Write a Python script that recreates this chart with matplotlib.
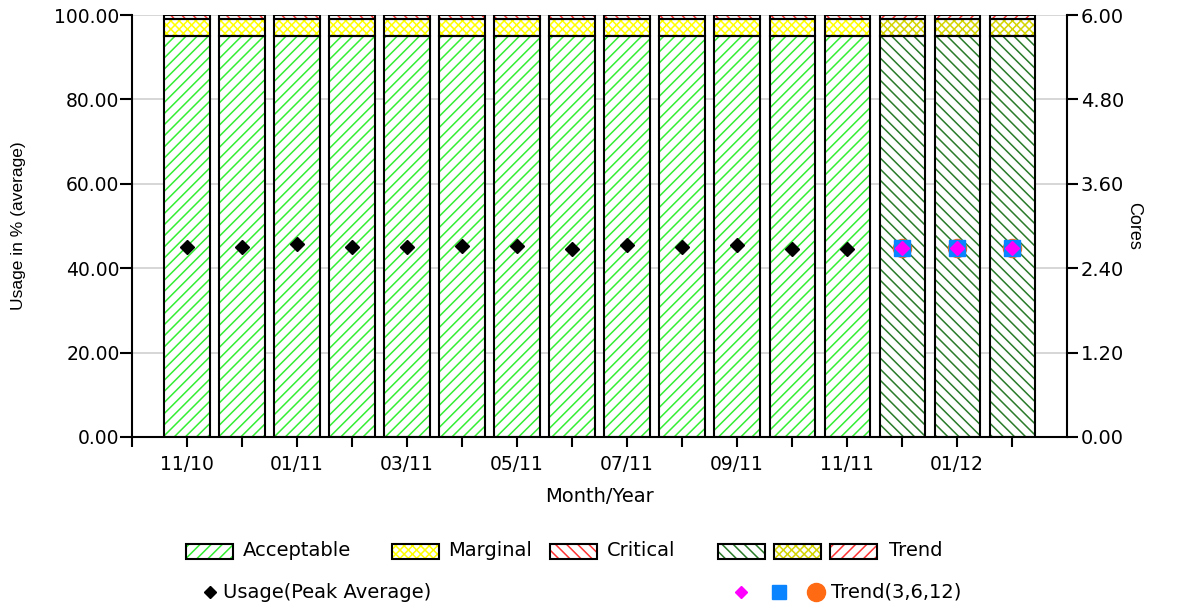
import matplotlib.pyplot as plt
from matplotlib.patches import Rectangle
from matplotlib.lines import Line2D
import numpy as np

plt.rcParams['font.family'] = ['DejaVu Sans']
plt.rcParams['hatch.linewidth'] = 1.1

# months shown on the x axis (actual months 11/10 .. 02/12)
months = ['11/10', '12/10', '01/11', '02/11', '03/11', '04/11', '05/11', '06/11',
          '07/11', '08/11', '09/11', '10/11', '11/11', '12/11', '01/12', '02/12']
is_trend = [False] * 13 + [True] * 3

# threshold bands (percent)
acceptable = [95] * 16
marginal = [4] * 16
critical = [1] * 16

# peak average usage (percent)
usage = [45.1, 45.1, 45.7, 45.1, 45.1, 45.2, 45.2, 44.6, 45.5, 45.1, 45.4, 44.6, 44.6]
trend3 = [44.8, 44.8, 44.8]
trend6 = [44.8, 44.8, 44.8]
trend12 = [44.8, 44.8, 44.8]

fig = plt.figure(figsize=(11.83, 6.05), dpi=100)
ax = fig.add_axes([0.1116, 0.2777, 0.7904, 0.6973])

x = np.arange(1, len(months) + 1)
w = 0.82

acc_col = ['#2a7a2a' if t else '#33ee33' for t in is_trend]
acc_hatch = ['\\\\\\' if t else '///' for t in is_trend]
mar_col = ['#d4d400' if t else '#ffff00' for t in is_trend]
cri_col = ['#ff3333'] * 16
cri_hatch = ['///' if t else '\\\\\\' for t in is_trend]

bottoms = np.zeros(len(months))
for vals, cols, hatches in [(acceptable, acc_col, acc_hatch),
                             (marginal, mar_col, ['xxxx'] * 16),
                             (critical, cri_col, cri_hatch)]:
    for i in range(len(months)):
        ax.bar(x[i], vals[i], w, bottom=bottoms[i], color='white',
               edgecolor=cols[i], hatch=hatches[i], linewidth=0, zorder=2)
    ax.bar(x, vals, w, bottom=bottoms, fill=False, edgecolor='black',
           linewidth=1.5, zorder=3)
    bottoms = bottoms + np.array(vals)

ax.plot(x[:len(usage)], usage, 'D', color='black', markersize=7, zorder=5)
tx = x[len(usage):]
ax.plot(tx, trend12, 'o', color='#ff6a13', markersize=13, zorder=5)
ax.plot(tx, trend6, 's', color='#0a84ff', markersize=11.5, zorder=6)
ax.plot(tx, trend3, 'D', color='#ff00ff', markersize=7, zorder=7)

ax.set_xlim(0, 17)
ax.set_ylim(0, 100)
ax.set_yticks(np.arange(0, 101, 20))
ax.set_yticklabels(['%.2f' % v for v in np.arange(0, 101, 20)])
ax.set_xticks(np.concatenate([[0], x]))
ax.set_xticklabels([''] + [m if i % 2 == 0 else '' for i, m in enumerate(months)])
ax.grid(axis='y', color='#d0d0d0', linewidth=1.2, zorder=0)
ax.set_axisbelow(True)
ax.spines['top'].set_visible(False)
ax.spines['right'].set_visible(False)
for s in ['left', 'bottom']:
    ax.spines[s].set_linewidth(1.5)
ax.tick_params(axis='both', direction='out', length=9, width=1.5, labelsize=13.5)
ax.tick_params(axis='y', pad=0)
ax.tick_params(axis='x', length=7, pad=6)
ax.set_xlabel('Month/Year', fontsize=14, labelpad=9)
ax.set_ylabel('Usage in % (average)', fontsize=12.5, labelpad=20,
              family='Liberation Sans')

ax2 = ax.twinx()
ax2.set_ylim(0, 6)
cores_ticks = [0, 1.2, 2.4, 3.6, 4.8, 6.0]
ax2.set_yticks(cores_ticks)
ax2.set_yticklabels(['%.2f' % v for v in cores_ticks])
ax2.spines['top'].set_visible(False)
ax2.spines['left'].set_visible(False)
ax2.spines['bottom'].set_visible(False)
ax2.spines['right'].set_linewidth(1.5)
ax2.tick_params(axis='y', direction='out', length=8, width=1.5, pad=2,
                labelsize=14)
ax2.set_ylabel('Cores', fontsize=13, rotation=270, labelpad=13,
               family='Liberation Sans')

# legend, drawn in figure pixels
W, H = 1183.0, 605.0


def patch(px, py, col, hatch):
    fig.add_artist(Rectangle((px / W, (H - py - 7.5) / H), 47 / W, 15 / H,
                             facecolor='white', edgecolor=col, hatch=hatch,
                             linewidth=0, transform=fig.transFigure))
    fig.add_artist(Rectangle((px / W, (H - py - 7.5) / H), 47 / W, 15 / H,
                             fill=False, edgecolor='black', linewidth=1.5,
                             transform=fig.transFigure))


def label(px, py, s):
    fig.text(px / W, (H - py) / H, s, fontsize=14, va='center', ha='left')


def marker(px, py, m, col, ms):
    fig.add_artist(Line2D([px / W], [(H - py) / H], marker=m, color=col,
                          markersize=ms, linestyle='none',
                          transform=fig.transFigure))


patch(186, 551, '#33ee33', '///')
label(243, 551, 'Acceptable')
patch(392, 551, '#ffff00', 'xxxx')
label(448, 551, 'Marginal')
patch(550, 551, '#ff3333', '\\\\\\')
label(607, 551, 'Critical')
patch(718, 551, '#2a7a2a', '\\\\\\')
patch(774, 551, '#d4d400', 'xxxx')
patch(830, 551, '#ff3333', '///')
label(889, 551, 'Trend')

marker(210, 592, 'D', 'black', 6.5)
label(223, 592, 'Usage(Peak Average)')
marker(741, 592, 'D', '#ff00ff', 6)
marker(779, 592, 's', '#0a84ff', 10)
marker(816, 592, 'o', '#ff6a13', 13)
label(831, 592, 'Trend(3,6,12)')

fig.savefig('out.png', dpi=100)
